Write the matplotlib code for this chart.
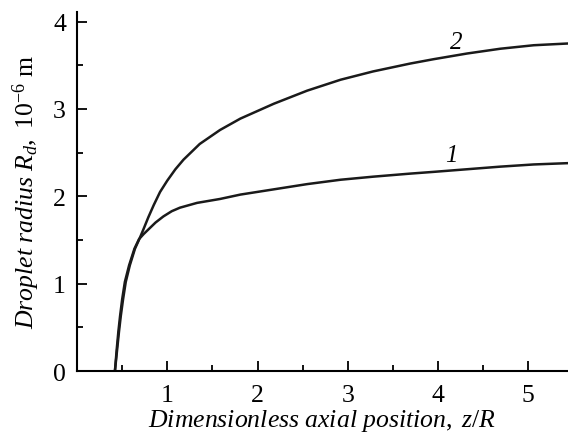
import matplotlib
matplotlib.use("Agg")
import matplotlib.pyplot as plt
from matplotlib.ticker import MultipleLocator

plt.rcParams['font.family'] = ['Liberation Serif', 'DejaVu Serif']
plt.rcParams['mathtext.fontset'] = 'custom'
plt.rcParams['mathtext.rm'] = 'Liberation Serif'
plt.rcParams['mathtext.it'] = 'Liberation Serif:italic'

# Curve 1
z1 = [0.42, 0.44, 0.458, 0.477, 0.50, 0.53, 0.577, 0.636, 0.687, 0.74, 0.79, 0.87,
      0.957, 1.05, 1.14, 1.33, 1.585, 1.81, 2.18, 2.55, 2.92, 3.28, 3.69, 3.95,
      4.32, 4.69, 5.06, 5.44]
r1 = [0.0, 0.25, 0.45, 0.63, 0.82, 1.02, 1.21, 1.40, 1.51, 1.57, 1.62, 1.70,
      1.77, 1.83, 1.87, 1.925, 1.97, 2.02, 2.08, 2.14, 2.19, 2.225, 2.26, 2.28,
      2.31, 2.34, 2.365, 2.38]

# Curve 2
z2 = [0.42, 0.445, 0.465, 0.485, 0.51, 0.54, 0.585, 0.642, 0.69, 0.735, 0.79, 0.85,
      0.92, 1.0, 1.09, 1.18, 1.36, 1.585, 1.81, 2.18, 2.55, 2.92, 3.28, 3.69,
      3.95, 4.32, 4.69, 5.06, 5.44]
r2 = [0.0, 0.25, 0.45, 0.63, 0.82, 1.02, 1.21, 1.40, 1.51, 1.62, 1.76, 1.90,
      2.05, 2.18, 2.31, 2.42, 2.60, 2.76, 2.89, 3.06, 3.21, 3.335, 3.43, 3.52,
      3.57, 3.635, 3.69, 3.73, 3.75]

xticks = [1, 2, 3, 4, 5]
yticks = [0, 1, 2, 3, 4]

fig = plt.figure(figsize=(5.68, 4.35), dpi=100)
ax = fig.add_axes([0.1356, 0.1448, 0.8644, 0.8252])
ax.plot(z1, r1, color='#1a1a1a', lw=1.8, solid_joinstyle='round')
ax.plot(z2, r2, color='#1a1a1a', lw=1.8, solid_joinstyle='round')

ax.text(4.15, 2.47, '1', fontsize=18, style='italic', ha='center', va='center')
ax.text(4.2, 3.77, '2', fontsize=18, style='italic', ha='center', va='center')

ax.set_xlim(0, 5.44)
ax.set_ylim(0, 4.11)
ax.set_xticks(xticks)
ax.set_yticks(yticks)
ax.xaxis.set_minor_locator(MultipleLocator(0.5))
ax.yaxis.set_minor_locator(MultipleLocator(0.5))
ax.tick_params(which='major', direction='in', length=7, width=1.3, labelsize=18.5)
ax.tick_params(axis='x', which='major', pad=9)
ax.tick_params(axis='y', which='major', pad=8)
ax.tick_params(which='minor', direction='in', length=4.5, width=1.3)
for s in ['top', 'right']:
    ax.spines[s].set_visible(False)
for s in ['left', 'bottom']:
    ax.spines[s].set_linewidth(1.5)

ax.set_xlabel(r'$\mathit{Dimensionless\ axial\ position},\ \mathit{z/R}$', fontsize=18.5, labelpad=1)
ax.set_ylabel(r'$\mathit{Droplet\ radius\ R_d},\ \mathrm{10^{-6}\ m}$', fontsize=18.5, labelpad=8)

fig.savefig('out.png', dpi=100)
